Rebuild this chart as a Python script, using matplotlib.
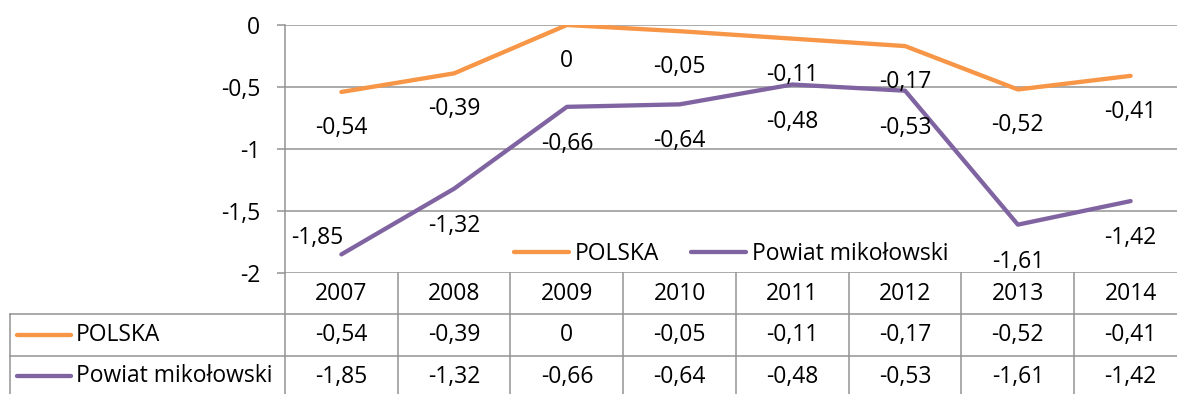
import matplotlib
matplotlib.use('Agg')
import matplotlib.pyplot as plt
import matplotlib.transforms as mtransforms

plt.rcParams['font.family'] = ['Open Sans', 'DejaVu Sans']

years = ['2007', '2008', '2009', '2010', '2011', '2012', '2013', '2014']
polska = [-0.54, -0.39, 0, -0.05, -0.11, -0.17, -0.52, -0.41]
mikolow = [-1.85, -1.32, -0.66, -0.64, -0.48, -0.53, -1.61, -1.42]
series_names = ['POLSKA', 'Powiat mikołowski']
yticks = [0, -0.5, -1, -1.5, -2]
ytick_labels = ['0', '-0,5', '-1', '-1,5', '-2']

orange = '#F79646'
purple = '#8064A2'
grid_c = '#939393'
fs = 16.5

W, H = 1177, 394


def px_box(left, top, width, height):
    # pixel box (from top-left) -> figure fraction rect
    return [left / W, 1 - (top + height) / H, width / W, height / H]


def fmt(v):
    return f'{v:g}'.replace('.', ',')


fig = plt.figure(figsize=(W / 100, H / 100), dpi=100)
ax = fig.add_axes(px_box(285, 25, 902, 248))
x = list(range(len(years)))

ax.plot(x, polska, color=orange, lw=3.1, solid_capstyle='round', label=series_names[0])
ax.plot(x, mikolow, color=purple, lw=3.1, solid_capstyle='round', label=series_names[1])

# data labels, below the points
for i, v in enumerate(polska):
    ax.annotate(fmt(v), (i, v), xytext=(0, -36), textcoords='offset pixels',
                ha='center', va='center', fontsize=fs)
for i, v in enumerate(mikolow):
    if i == 0:
        ax.annotate(fmt(v), (i, v), xytext=(2, 16), textcoords='offset pixels',
                    ha='right', va='center', fontsize=fs)
    else:
        ax.annotate(fmt(v), (i, v), xytext=(0, -37), textcoords='offset pixels',
                    ha='center', va='center', fontsize=fs)

ax.set_xlim(-0.5, len(years) - 0.5)
ax.set_ylim(-2, 0)
ax.set_yticks(yticks)
ax.set_yticklabels(ytick_labels, fontsize=fs)
ax.set_xticks([])
ax.yaxis.grid(True, color=grid_c, lw=1.1)
ax.set_axisbelow(True)
ax.tick_params(axis='y', length=5.8, width=1.1, color=grid_c, pad=12)
for s in ['top', 'right', 'bottom']:
    ax.spines[s].set_visible(False)
ax.spines['left'].set_color(grid_c)
ax.spines['left'].set_linewidth(1.1)
ax.patch.set_alpha(0)

leg = ax.legend(loc='center', bbox_to_anchor=(731 / W, 1 - 254 / H),
                bbox_transform=fig.transFigure, ncol=2, frameon=False,
                fontsize=fs, handlelength=2.4, handletextpad=0.25,
                columnspacing=1.4, borderpad=0)

# data table under the plot
axt = fig.add_axes(px_box(285, 273, 902, 124), sharex=ax)
axt.set_ylim(3, 0)
axt.axis('off')
blend = mtransforms.blended_transform_factory(axt.transAxes, axt.transData)
left_edge = (10 - 285) / 902

for b in range(len(years) + 1):
    axt.plot([b - 0.5, b - 0.5], [0, 3], color=grid_c, lw=1.1, clip_on=False)
for r in [1, 2, 3]:
    axt.plot([left_edge, 1], [r, r], color=grid_c, lw=1.1, clip_on=False, transform=blend)
axt.plot([left_edge, left_edge], [1, 3], color=grid_c, lw=1.1, clip_on=False, transform=blend)

for i, yr in enumerate(years):
    axt.text(i, 0.52, yr, ha='center', va='center', fontsize=fs)
    axt.text(i, 1.5, fmt(polska[i]), ha='center', va='center', fontsize=fs)
    axt.text(i, 2.52, fmt(mikolow[i]), ha='center', va='center', fontsize=fs)

for r, (name, col) in enumerate(zip(series_names, [orange, purple])):
    yy = 1.5 + r
    axt.plot([(17 - 285) / 902, (71 - 285) / 902], [yy, yy], color=col, lw=3.1,
             solid_capstyle='round', clip_on=False, transform=blend)
    axt.text((76 - 285) / 902, yy, name, ha='left', va='center', fontsize=fs,
             transform=blend)

fig.savefig('out.png', dpi=100)
